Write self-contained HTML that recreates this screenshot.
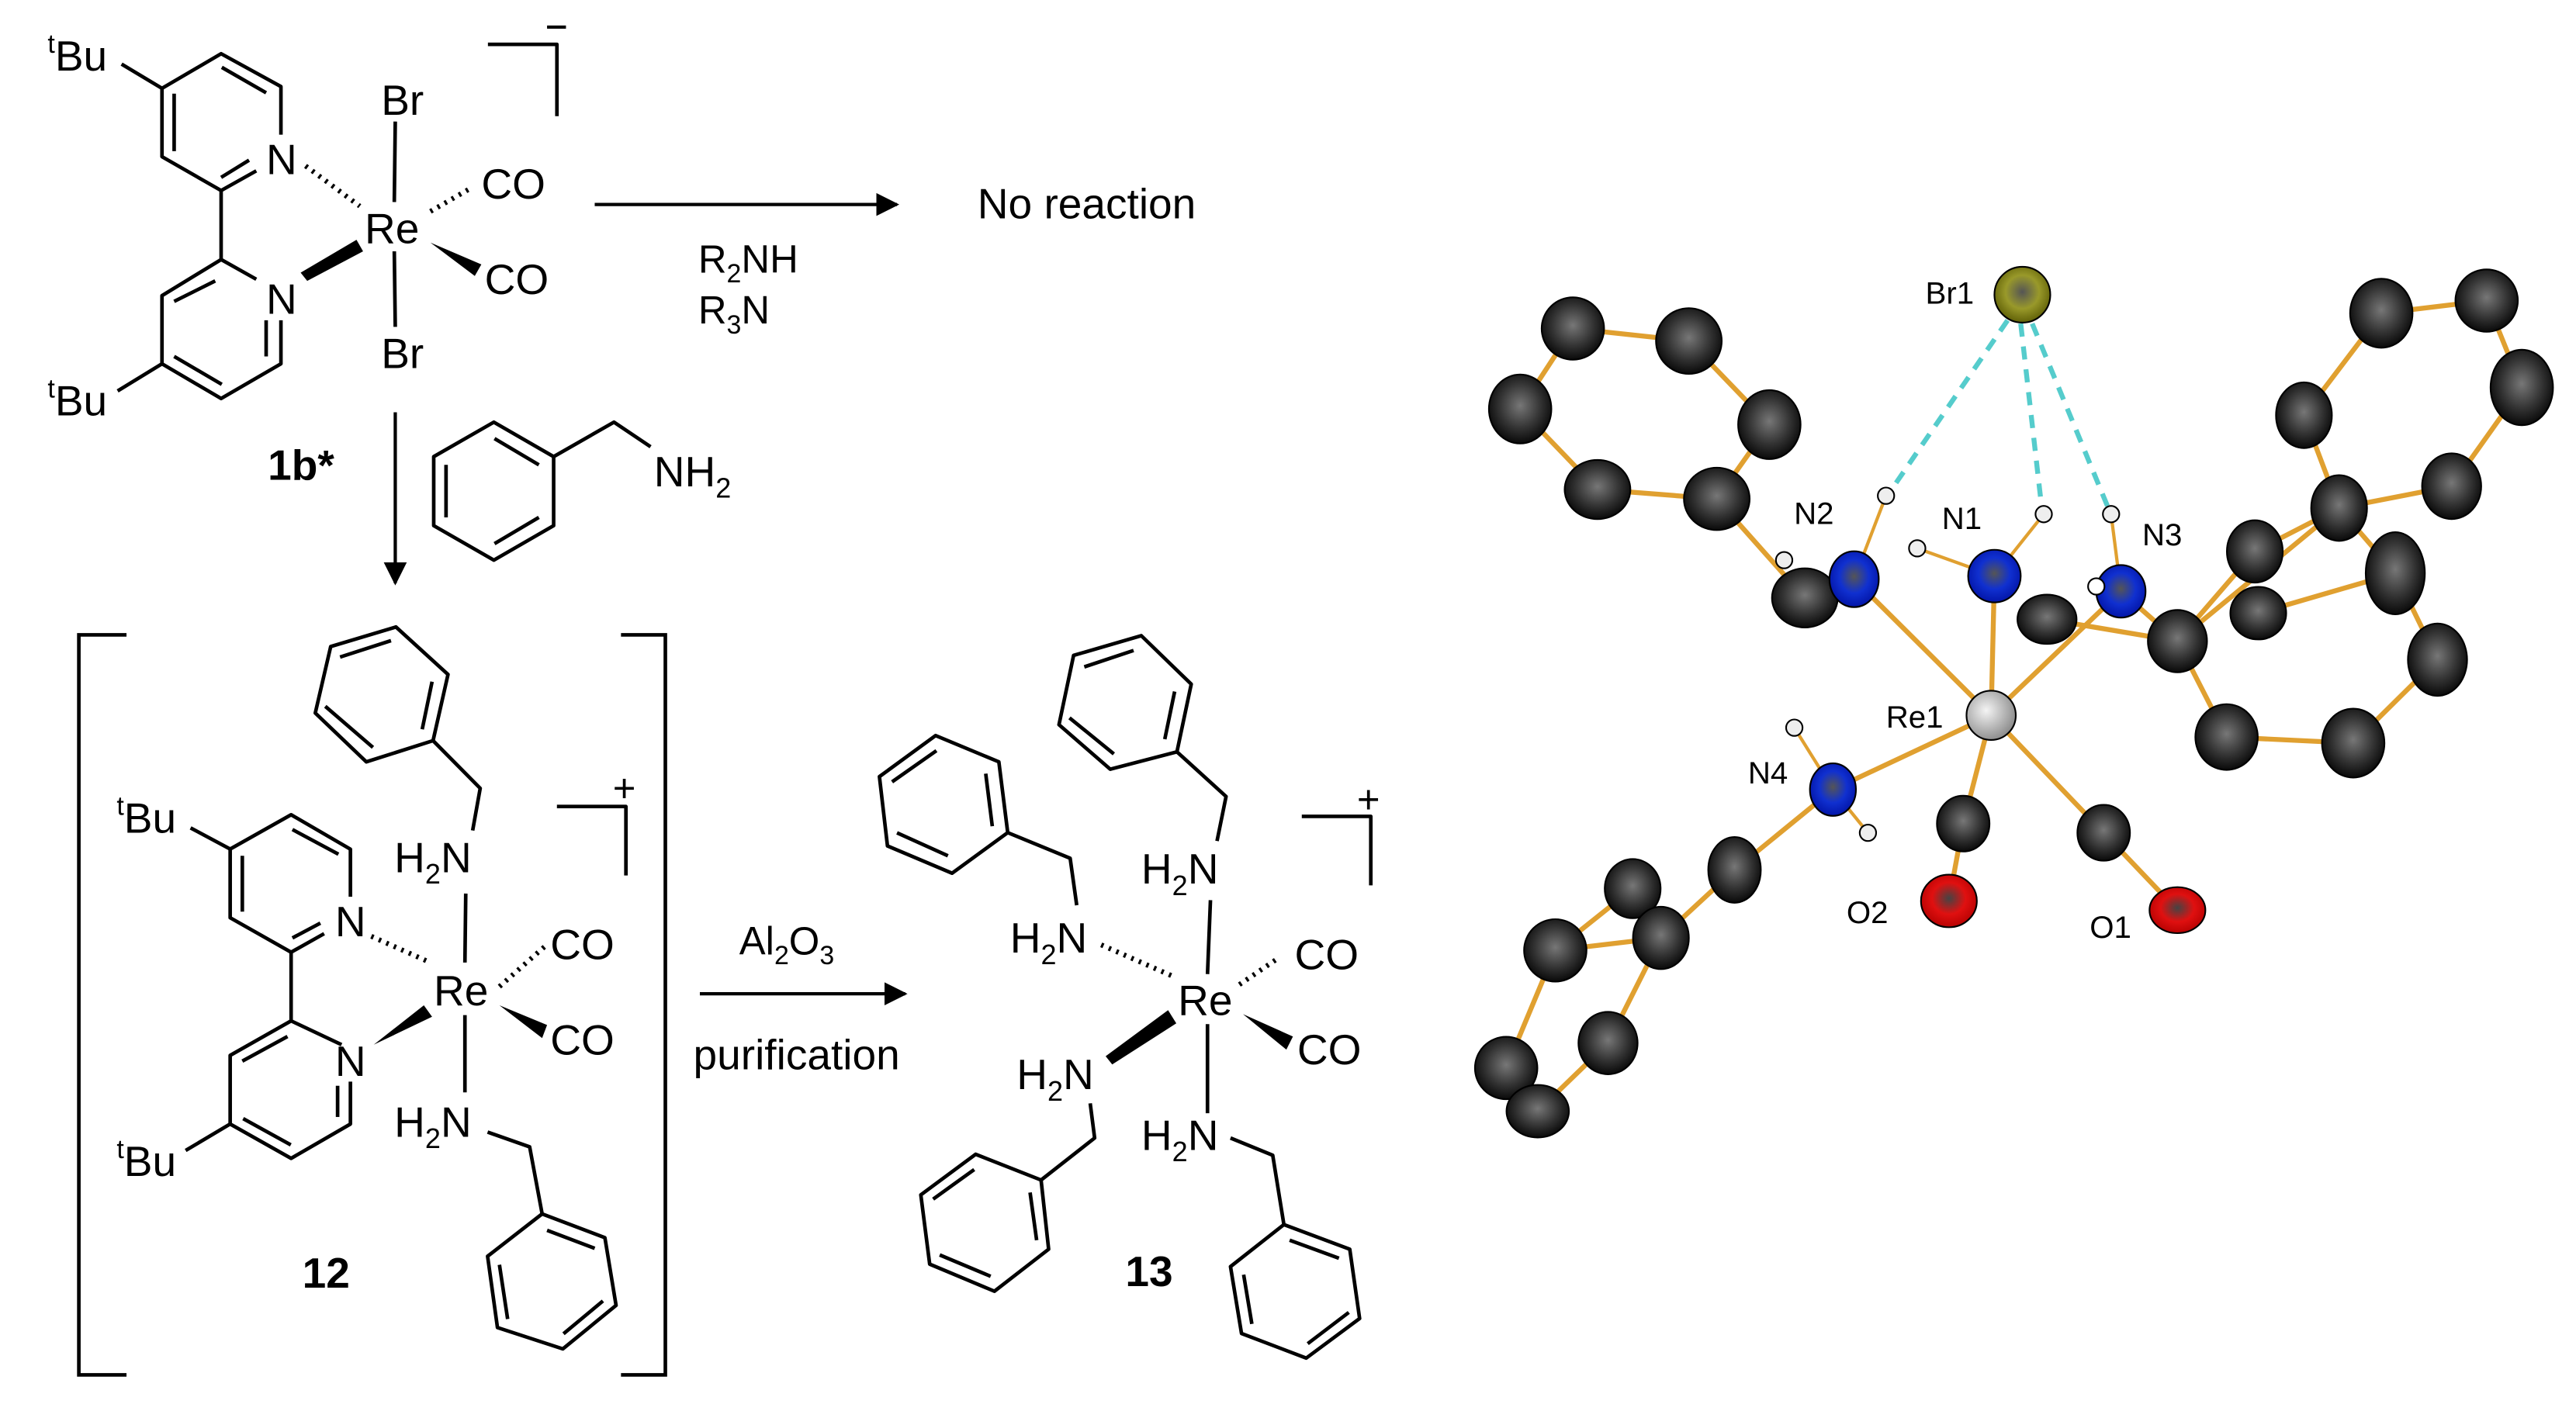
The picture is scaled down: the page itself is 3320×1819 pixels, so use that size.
<!DOCTYPE html>
<html><head><meta charset="utf-8"><style>
html,body{margin:0;padding:0;background:#fff;}
svg{display:block;}
text{font-family:"Liberation Sans",Arial,sans-serif;fill:#000;}
</style></head><body>
<svg width="3320" height="1819" viewBox="0 0 1568 859" preserveAspectRatio="none" xmlns="http://www.w3.org/2000/svg">
<defs>
<marker id="ah" viewBox="0 0 10 10" refX="9" refY="5" markerWidth="7" markerHeight="7" orient="auto"><path d="M0,0 L10,5 L0,10 z" fill="#000"/></marker>
<radialGradient id="gb" cx="50%" cy="45%" r="60%"><stop offset="0" stop-color="#777"/><stop offset="0.55" stop-color="#333"/><stop offset="1" stop-color="#000"/></radialGradient>
<radialGradient id="gn" cx="50%" cy="45%" r="60%"><stop offset="0" stop-color="#555"/><stop offset="0.5" stop-color="#1030d0"/><stop offset="1" stop-color="#0010a0"/></radialGradient>
<radialGradient id="go" cx="50%" cy="45%" r="60%"><stop offset="0" stop-color="#444"/><stop offset="0.5" stop-color="#e01010"/><stop offset="1" stop-color="#b00000"/></radialGradient>
<radialGradient id="gr" cx="40%" cy="40%" r="65%"><stop offset="0" stop-color="#f4f4f4"/><stop offset="1" stop-color="#888"/></radialGradient>
<radialGradient id="gy" cx="50%" cy="45%" r="60%"><stop offset="0" stop-color="#555"/><stop offset="0.5" stop-color="#99992a"/><stop offset="1" stop-color="#555500"/></radialGradient>
</defs>

<g stroke="#000" stroke-width="2.2" fill="none" stroke-linejoin="round">
<!-- 1b* bipyridine -->
<polyline points="171,82 171,52.7 134.6,32.7 98.6,53.8 98.6,95.4 134.6,116 156,104"/>
<line x1="135" y1="41" x2="162" y2="56.5"/><line x1="106" y1="57" x2="106" y2="92"/><line x1="134.6" y1="108" x2="151.6" y2="97.5"/>
<line x1="134.6" y1="116" x2="134.6" y2="158"/>
<polyline points="156,170 134.6,158 98.6,180 98.6,221.5 134.6,242.6 171,221.5 171,195"/>
<line x1="106" y1="183.5" x2="131" y2="171"/><line x1="162" y1="195" x2="162" y2="217"/><line x1="106" y1="217" x2="135" y2="234"/>
<line x1="74" y1="39" x2="98.6" y2="53.8"/><line x1="71.6" y1="238" x2="98.6" y2="221.5"/>
<line x1="240.6" y1="74" x2="240" y2="123"/><line x1="240" y1="153" x2="240.6" y2="199"/>
<line x1="186" y1="101" x2="219" y2="125.5" stroke-dasharray="1.5,3.5" stroke-width="3"/>
<line x1="262" y1="128.7" x2="287.5" y2="114" stroke-dasharray="1.5,3.5" stroke-width="3"/>
<polyline points="297,27 339,27 339,70.7"/>
</g>
<polygon points="183,166 217,146 221,153 187,171" fill="#000"/>
<polygon points="262,147.7 293,161 289,168" fill="#000"/>
<text x="29" y="43" font-size="26"><tspan font-size="16" dy="-11">t</tspan><tspan dy="11">Bu</tspan></text>
<text x="29" y="253" font-size="26"><tspan font-size="16" dy="-11">t</tspan><tspan dy="11">Bu</tspan></text>
<text x="162" y="106" font-size="26">N</text><text x="162" y="191" font-size="26">N</text>
<text x="222" y="148" font-size="26">Re</text>
<text x="232" y="70" font-size="26">Br</text><text x="232" y="224" font-size="26">Br</text>
<text x="293" y="121" font-size="26">CO</text><text x="295" y="179" font-size="26">CO</text>
<line x1="333" y1="16.5" x2="344.5" y2="16.5" stroke="#000" stroke-width="2"/>
<text x="163" y="292" font-size="26" font-weight="bold">1b*</text>
<!-- arrow to no reaction -->
<line x1="362" y1="124.5" x2="546" y2="124.5" stroke="#000" stroke-width="2" marker-end="url(#ah)"/>
<text x="595" y="133" font-size="26">No reaction</text>
<text x="425" y="166" font-size="24">R<tspan font-size="16" dy="6">2</tspan><tspan dy="-6">NH</tspan></text>
<text x="425" y="197" font-size="24">R<tspan font-size="16" dy="6">3</tspan><tspan dy="-6">N</tspan></text>
<!-- benzylamine -->
<g stroke="#000" stroke-width="2.2" fill="none" stroke-linejoin="round">
<polygon points="300.6,257 337,278 337,320 300.6,341 264,320 264,278"/>
<line x1="301" y1="267" x2="328" y2="283"/><line x1="271.5" y1="283" x2="271.5" y2="315"/><line x1="301" y1="331" x2="328" y2="315"/>
<polyline points="337,278 373.7,257 396,272"/>
</g>
<text x="398" y="296" font-size="26">NH<tspan font-size="17" dy="7">2</tspan></text>
<line x1="240.6" y1="251" x2="240.6" y2="355" stroke="#000" stroke-width="2" marker-end="url(#ah)"/>
<!-- big brackets -->
<polyline points="77,386.5 48,386.5 48,837 77,837" fill="none" stroke="#000" stroke-width="2.2"/>
<polyline points="378,386.5 405,386.5 405,837 378,837" fill="none" stroke="#000" stroke-width="2.2"/>

<!-- complex 12 -->
<g stroke="#000" stroke-width="2.2" fill="none" stroke-linejoin="round">
<polygon points="241,381.7 272.7,410.6 263.6,450.9 223,463.8 191.9,434.1 201.3,393.6"/>
<line x1="263" y1="415" x2="257" y2="444"/><line x1="227" y1="455" x2="198" y2="430"/><line x1="207" y1="400" x2="238" y2="390"/>
<polyline points="263.6,450.9 292.3,479.9 287.7,505.6"/>
<polyline points="213.3,545.9 213.3,517 177.2,496 140.1,516.9 140.1,558.7 177.2,579.7 197.3,568.4"/>
<line x1="178" y1="505" x2="206" y2="520"/><line x1="147.5" y1="521" x2="147.5" y2="555"/><line x1="178" y1="571" x2="195" y2="562"/>
<line x1="177.2" y1="579.7" x2="177.2" y2="621.5"/>
<polyline points="207.9,636 177.2,621.5 140.1,642.5 140.1,684.3 177.2,705.2 213.3,684.3 213.3,658.5"/>
<line x1="147.5" y1="646" x2="175" y2="631"/><line x1="205.5" y1="661" x2="205.5" y2="680"/><line x1="148" y1="681" x2="177" y2="697"/>
<line x1="116" y1="504" x2="140.1" y2="516.9"/><line x1="113" y1="700.4" x2="140.1" y2="684.3"/>
<line x1="283.5" y1="544" x2="283" y2="586"/><line x1="283" y1="618" x2="283" y2="665"/>
<line x1="226" y1="570" x2="262" y2="586" stroke-dasharray="1.5,3.5" stroke-width="3"/>
<line x1="304" y1="600.6" x2="331.4" y2="576.4" stroke-dasharray="1.5,3.5" stroke-width="3"/>
<polyline points="296.8,689.2 322.4,698.2 330,739"/>
<polygon points="330,739 368.2,753.5 375,794.7 342.6,821.2 302.8,808.2 296.8,764.8"/>
<line x1="333" y1="749" x2="362" y2="760"/><line x1="304" y1="770" x2="309" y2="803"/><line x1="343" y1="812" x2="367" y2="792"/>
<polyline points="339,491 381,491 381,533"/>
</g>
<polygon points="227.5,636 258,612 263,619" fill="#000"/>
<polygon points="304,612 333,624 330,632" fill="#000"/>
<text x="71" y="507" font-size="26"><tspan font-size="16" dy="-11">t</tspan><tspan dy="11">Bu</tspan></text>
<text x="71" y="716" font-size="26"><tspan font-size="16" dy="-11">t</tspan><tspan dy="11">Bu</tspan></text>
<text x="204" y="570" font-size="26">N</text><text x="204" y="655" font-size="26">N</text>
<text x="264" y="612" font-size="26">Re</text>
<text x="240" y="531" font-size="26">H<tspan font-size="17" dy="7">2</tspan><tspan dy="-7">N</tspan></text>
<text x="240" y="692" font-size="26">H<tspan font-size="17" dy="7">2</tspan><tspan dy="-7">N</tspan></text>
<text x="335" y="584" font-size="26">CO</text><text x="335" y="642" font-size="26">CO</text>
<text x="373" y="488" font-size="24">+</text>
<text x="184" y="784" font-size="26" font-weight="bold">12</text>

<!-- arrow 12->13 -->
<line x1="426" y1="605" x2="551" y2="605" stroke="#000" stroke-width="2" marker-end="url(#ah)"/>
<text x="450" y="581" font-size="24">Al<tspan font-size="16" dy="6">2</tspan><tspan dy="-6">O</tspan><tspan font-size="16" dy="6">3</tspan></text>
<text x="422" y="651" font-size="26">purification</text>

<!-- complex 13 -->
<g stroke="#000" stroke-width="2.2" fill="none" stroke-linejoin="round">
<polygon points="694.7,387 725.1,416.5 716.4,457.7 675.8,468.3 644.6,441.2 653.5,399"/>
<line x1="715" y1="421" x2="709" y2="450"/><line x1="678" y1="459" x2="651" y2="437"/><line x1="660" y1="406" x2="690" y2="396"/>
<polyline points="716.4,457.7 746.3,484.9 740.8,512"/>
<line x1="736.8" y1="548" x2="735" y2="593"/><line x1="735" y1="623.5" x2="735" y2="677.7"/>
<line x1="670.3" y1="575.2" x2="715" y2="594.8" stroke-dasharray="1.5,3.5" stroke-width="3"/>
<line x1="754.4" y1="599.4" x2="778.8" y2="582.8" stroke-dasharray="1.5,3.5" stroke-width="3"/>
<polyline points="655.4,551.1 651.4,522.5 613.4,506.9"/>
<polygon points="613.4,506.9 608,463.8 569.5,447.8 535.3,472.8 540.2,515 579.5,531.6"/>
<line x1="604" y1="503" x2="600" y2="471"/><line x1="570" y1="457" x2="543" y2="476"/><line x1="546" y1="507" x2="577" y2="521"/>
<polyline points="663.6,671.7 666.3,692.8 633.7,718.4"/>
<polygon points="633.7,718.4 593.9,702.7 560.5,727.4 565.9,769.6 605.3,786.1 638.3,760.5"/>
<line x1="627" y1="726" x2="631" y2="755"/><line x1="593" y1="712" x2="568" y2="730"/><line x1="572" y1="764" x2="603" y2="777"/>
<polyline points="749,692.8 774.7,703.3 781.5,745.5"/>
<polygon points="781.5,745.5 821.6,760.5 827.6,802.7 795.1,826.8 755.7,811.8 749,771.1"/>
<line x1="785" y1="755" x2="815" y2="766"/><line x1="757" y1="776" x2="762" y2="806"/><line x1="796" y1="818" x2="821" y2="799"/>
<polyline points="792.4,497 834.4,497 834.4,539"/>
</g>
<polygon points="673,643 711,615 716,623 677,648" fill="#000"/>
<polygon points="756.6,617.4 787,631 783,639" fill="#000"/>
<text x="614.8" y="580" font-size="26">H<tspan font-size="17" dy="7">2</tspan><tspan dy="-7">N</tspan></text>
<text x="694.7" y="538" font-size="26">H<tspan font-size="17" dy="7">2</tspan><tspan dy="-7">N</tspan></text>
<text x="618.8" y="663" font-size="26">H<tspan font-size="17" dy="7">2</tspan><tspan dy="-7">N</tspan></text>
<text x="694.7" y="700" font-size="26">H<tspan font-size="17" dy="7">2</tspan><tspan dy="-7">N</tspan></text>
<text x="717" y="618" font-size="26">Re</text>
<text x="788" y="590" font-size="26">CO</text><text x="789.6" y="648" font-size="26">CO</text>
<text x="826" y="495" font-size="24">+</text>
<text x="685" y="783" font-size="26" font-weight="bold">13</text>

<!-- crystal structure -->
<g stroke="#e0a030" stroke-width="3" fill="none">
<polygon points="957.4,200 1028,207.6 1077,258.5 1045,303.7 972.4,298 925.3,249"/>
<polyline points="1045,303.7 1098.6,364 1128.6,352.6"/>
<line x1="1128.6" y1="352.6" x2="1212" y2="435.5"/>
<line x1="1214" y1="350.7" x2="1212" y2="435.5"/>
<polyline points="1212,435.5 1291,360 1325.4,390.3"/>
<line x1="1246" y1="377" x2="1325.4" y2="390.3"/>
<polyline points="1325.4,390.3 1372.5,335.7 1423.8,309.3"/>
<line x1="1374.6" y1="373.3" x2="1458" y2="349"/>
<polygon points="1449.5,190.7 1513.6,183 1535,235.9 1492.3,296 1423.8,309.3 1402.4,252.8"/>
<polygon points="1325.4,390.3 1355.3,448.7 1432.4,452.4 1483.7,401.6 1458,349 1423.8,309.3"/>
<line x1="1212" y1="435.5" x2="1115.7" y2="480.7"/>
<line x1="1212" y1="435.5" x2="1195" y2="501.4"/><line x1="1212" y1="435.5" x2="1280.5" y2="507"/>
<line x1="1195" y1="501.4" x2="1186.3" y2="548.5"/><line x1="1280.5" y1="507" x2="1325.4" y2="554.1"/>
<polyline points="1115.7,480.7 1055.8,529.6 1011,571"/>
<polygon points="1011,571 946.7,578.6 916.8,650.2 936,676.5 978.8,635"/>
<line x1="993.8" y1="541" x2="1011" y2="571"/><line x1="993.8" y1="541" x2="946.7" y2="578.6"/>
<line x1="1148" y1="301.8" x2="1128.6" y2="352.6" stroke-width="2"/><line x1="1244" y1="313" x2="1214" y2="350.7" stroke-width="2"/><line x1="1285" y1="313" x2="1291" y2="360" stroke-width="2"/>
<line x1="1167" y1="333.8" x2="1214" y2="350.7" stroke-width="2"/><line x1="1092.2" y1="443" x2="1115.7" y2="480.7" stroke-width="2"/><line x1="1137" y1="507" x2="1115.7" y2="480.7" stroke-width="2"/>
</g>
<g stroke="#5cc" stroke-width="3" stroke-dasharray="8,6" fill="none">
<line x1="1222" y1="195" x2="1150" y2="300"/><line x1="1230" y1="197" x2="1243" y2="311"/><line x1="1237" y1="197" x2="1284" y2="311"/>
</g>
<g stroke="#000" stroke-width="1">
<ellipse cx="957.4" cy="200" rx="19" ry="19" fill="url(#gb)"/><ellipse cx="1028" cy="207.6" rx="20" ry="20" fill="url(#gb)"/><ellipse cx="1077" cy="258.5" rx="19" ry="21" fill="url(#gb)"/><ellipse cx="1045" cy="303.7" rx="20" ry="19" fill="url(#gb)"/><ellipse cx="972.4" cy="298" rx="20" ry="18" fill="url(#gb)"/><ellipse cx="925.3" cy="249" rx="19" ry="21" fill="url(#gb)"/>
<ellipse cx="1098.6" cy="364" rx="20" ry="18" fill="url(#gb)"/>
<ellipse cx="1246" cy="377" rx="18" ry="15" fill="url(#gb)"/><ellipse cx="1325.4" cy="390.3" rx="18" ry="19" fill="url(#gb)"/>
<ellipse cx="1372.5" cy="335.7" rx="17" ry="19" fill="url(#gb)"/><ellipse cx="1374.6" cy="373.3" rx="17" ry="16" fill="url(#gb)"/>
<ellipse cx="1449.5" cy="190.7" rx="19" ry="21" fill="url(#gb)"/><ellipse cx="1513.6" cy="183" rx="19" ry="19" fill="url(#gb)"/><ellipse cx="1535" cy="235.9" rx="19" ry="23" fill="url(#gb)"/><ellipse cx="1492.3" cy="296" rx="18" ry="20" fill="url(#gb)"/><ellipse cx="1423.8" cy="309.3" rx="17" ry="20" fill="url(#gb)"/><ellipse cx="1402.4" cy="252.8" rx="17" ry="20" fill="url(#gb)"/>
<ellipse cx="1458" cy="349" rx="18" ry="25" fill="url(#gb)"/><ellipse cx="1483.7" cy="401.6" rx="18" ry="22" fill="url(#gb)"/><ellipse cx="1432.4" cy="452.4" rx="19" ry="21" fill="url(#gb)"/><ellipse cx="1355.3" cy="448.7" rx="19" ry="20" fill="url(#gb)"/>
<ellipse cx="1055.8" cy="529.6" rx="16" ry="20" fill="url(#gb)"/><ellipse cx="993.8" cy="541" rx="17" ry="18" fill="url(#gb)"/><ellipse cx="1011" cy="571" rx="17" ry="19" fill="url(#gb)"/><ellipse cx="946.7" cy="578.6" rx="19" ry="19" fill="url(#gb)"/><ellipse cx="978.8" cy="635" rx="18" ry="19" fill="url(#gb)"/><ellipse cx="916.8" cy="650.2" rx="19" ry="19" fill="url(#gb)"/><ellipse cx="936" cy="676.5" rx="19" ry="16" fill="url(#gb)"/>
<ellipse cx="1195" cy="501.4" rx="16" ry="17" fill="url(#gb)"/><ellipse cx="1280.5" cy="507" rx="16" ry="17" fill="url(#gb)"/>
<ellipse cx="1128.6" cy="352.6" rx="15" ry="17" fill="url(#gn)"/><ellipse cx="1214" cy="350.7" rx="16" ry="16" fill="url(#gn)"/><ellipse cx="1291" cy="360" rx="15" ry="16" fill="url(#gn)"/><ellipse cx="1115.7" cy="480.7" rx="14" ry="16" fill="url(#gn)"/>
<ellipse cx="1186.3" cy="548.5" rx="17" ry="16" fill="url(#go)"/><ellipse cx="1325.4" cy="554.1" rx="17" ry="14" fill="url(#go)"/>
<circle cx="1212" cy="435.5" r="15" fill="url(#gr)"/>
<circle cx="1231" cy="179.4" r="17" fill="url(#gy)"/>
<circle cx="1148" cy="301.8" r="5" fill="#eee"/><circle cx="1244" cy="313" r="5" fill="#eee"/><circle cx="1285" cy="313" r="5" fill="#eee"/><circle cx="1167" cy="333.8" r="5" fill="#eee"/><circle cx="1276" cy="357" r="5" fill="#fff"/><circle cx="1086" cy="341" r="5" fill="#eee"/><circle cx="1092.2" cy="443" r="5" fill="#eee"/><circle cx="1137" cy="507" r="5" fill="#eee"/>
</g>
<g font-size="19" fill="#222">
<text x="1172" y="185">Br1</text><text x="1092" y="319">N2</text><text x="1182" y="322">N1</text><text x="1304" y="332">N3</text><text x="1064" y="477">N4</text><text x="1148" y="443">Re1</text><text x="1124" y="562">O2</text><text x="1272" y="571">O1</text>
</g>
</svg>
</body></html>
